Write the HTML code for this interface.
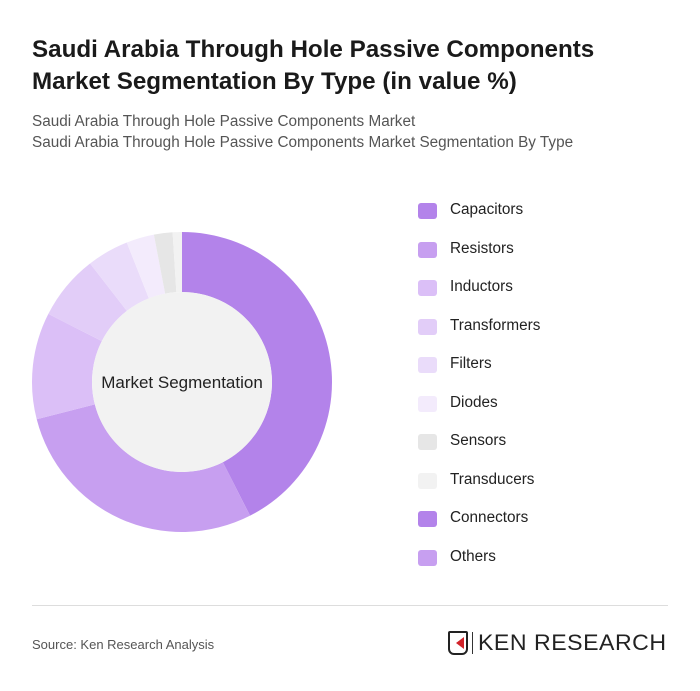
<!DOCTYPE html>
<html><head><meta charset="utf-8"><style>
body{margin:0;width:700px;height:691px;background:#fff;font-family:"Liberation Sans",sans-serif;overflow:hidden;position:relative}
.t{position:absolute;left:32px;top:34px;font-size:24.2px;font-weight:bold;color:#1a1a1a;line-height:32px}
.s{position:absolute;left:32px;font-size:15.3px;color:#555}
.leg{position:absolute;left:418px;font-size:15.3px;color:#222}
.leg span{position:absolute;left:0;top:2px;width:19px;height:16px;border-radius:3px}
.leg b{font-weight:normal;position:absolute;left:32px;top:0;white-space:nowrap}
</style></head><body>
<div class="t">Saudi Arabia Through Hole Passive Components<br>Market Segmentation By Type (in value %)</div>
<div class="s" style="top:113px">Saudi Arabia Through Hole Passive Components Market</div>
<div class="s" style="top:134px">Saudi Arabia Through Hole Passive Components Market Segmentation By Type</div>
<svg id="pie" width="700" height="691" style="position:absolute;left:0;top:0"></svg>
<div id="legend"></div>
<div style="position:absolute;left:32px;top:605px;width:636px;height:1px;background:#ddd"></div>
<div style="position:absolute;left:32px;top:637px;font-size:13px;color:#555">Source: Ken Research Analysis</div>
<div style="position:absolute;left:448px;top:631px;width:20px;height:24px;border:2px solid #222;border-radius:2px 2px 6px 6px;box-sizing:border-box"><div style="position:absolute;left:6px;top:4px;width:0;height:0;border-top:6px solid transparent;border-bottom:6px solid transparent;border-right:8px solid #d2232a"></div></div>
<div style="position:absolute;left:472px;top:632px;height:22px;width:1px;background:#333"></div>
<div style="position:absolute;left:478px;top:630px;font-size:22px;color:#222;letter-spacing:0.5px;transform:scaleX(1.05);transform-origin:left">KEN RESEARCH</div>
<script>
const categories=["Capacitors","Resistors","Inductors","Transformers","Filters","Diodes","Sensors","Transducers","Connectors","Others"];
const values=[42.5,28.5,11.5,7,4.5,3,2,1,0,0];
const colors=["#b383ea","#c79ff0","#dbbff7","#e2cdf8","#eadcfa","#f3ebfc","#e6e6e6","#f2f2f2","#b383ea","#c79ff0"];
const svg=document.getElementById('pie'),NS="http://www.w3.org/2000/svg";
const cx=182,cy=382,R=150,r=90;
const total=values.reduce((a,b)=>a+b,0);
function pt(a,rad){return [cx+rad*Math.sin(a),cy-rad*Math.cos(a)];}
let a0=0;
values.forEach((v,i)=>{
 if(v<=0)return;
 const a1=a0+v/total*2*Math.PI;const lg=(a1-a0)>Math.PI?1:0;
 const p0=pt(a0,R),p1=pt(a1,R),q1=pt(a1,r),q0=pt(a0,r);
 const p=document.createElementNS(NS,'path');
 p.setAttribute('d',`M${p0}A${R},${R} 0 ${lg} 1 ${p1}L${q1}A${r},${r} 0 ${lg} 0 ${q0}Z`);
 p.setAttribute('fill',colors[i]);
 
 
 svg.appendChild(p);a0=a1;
});
const c=document.createElementNS(NS,'circle');c.setAttribute('cx',cx);c.setAttribute('cy',cy);c.setAttribute('r',r);c.setAttribute('fill','#f2f2f2');


svg.appendChild(c);
const t=document.createElementNS(NS,'text');t.setAttribute('x',cx);t.setAttribute('y',cy+6);t.setAttribute('text-anchor','middle');t.setAttribute('font-size','17');t.setAttribute('fill','#222');t.setAttribute('font-family','Liberation Sans, sans-serif');t.textContent='Market Segmentation';


svg.appendChild(t);
const lg=document.getElementById('legend');
categories.forEach((n,i)=>{
 const d=document.createElement('div');d.className='leg';d.style.top=(201+i*38.5)+'px';
 d.innerHTML=`<span style="background:${colors[i]}"></span><b>${n}</b>`;
 
 
 lg.appendChild(d);
});
</script>
</body></html>
